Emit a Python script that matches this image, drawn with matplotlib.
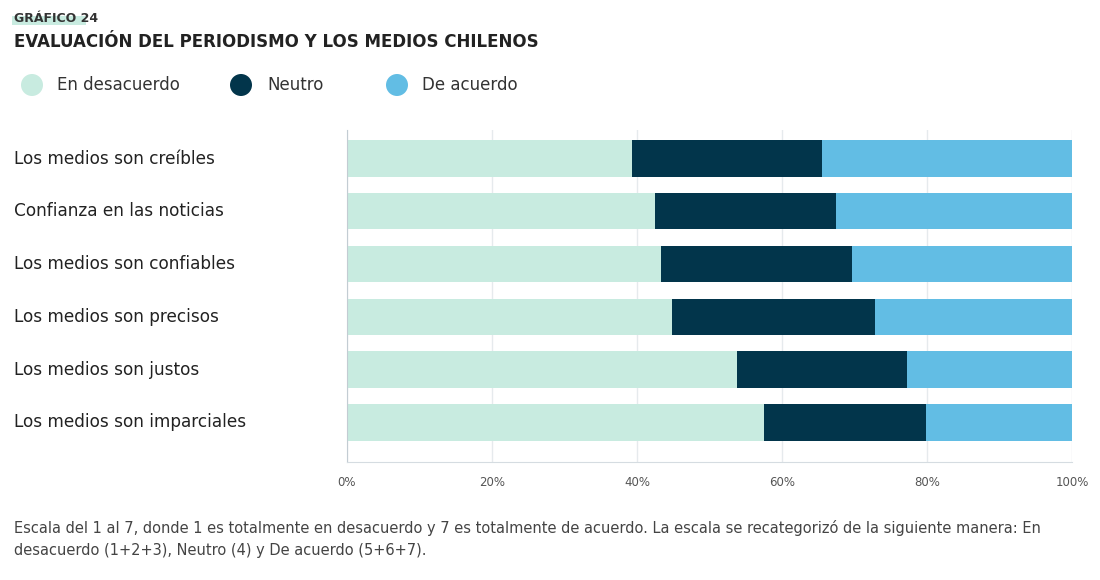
import matplotlib.pyplot as plt
import matplotlib.transforms as mtransforms
from matplotlib.patches import Rectangle, Ellipse
import numpy as np

# datos
categorias = ['Los medios son creíbles', 'Confianza en las noticias', 'Los medios son confiables',
              'Los medios son precisos', 'Los medios son justos', 'Los medios son imparciales']
desacuerdo = [39.3, 42.5, 43.3, 44.8, 53.8, 57.5]
neutro = [26.2, 24.9, 26.4, 28.0, 23.4, 22.4]
acuerdo = [34.5, 32.6, 30.3, 27.2, 22.8, 20.1]
series = ['En desacuerdo', 'Neutro', 'De acuerdo']
colores = ['#c8ebe0', '#02354b', '#62bde4']
ticks = [0, 20, 40, 60, 80, 100]
tick_labels = ['0%', '20%', '40%', '60%', '80%', '100%']

plt.rcParams['font.family'] = ['DejaVu Sans']
W, H = 1100, 580
fig = plt.figure(figsize=(11, 5.8), dpi=100)
ax = fig.add_axes([347 / W, 1 - 462 / H, (1072 - 347) / W, (462 - 130) / H])

y = np.arange(len(categorias))
izq = np.zeros(len(categorias))
for vals, col in zip([desacuerdo, neutro, acuerdo], colores):
    ax.barh(y, vals, left=izq, height=0.69, color=col, zorder=2)
    izq = izq + np.array(vals)

ax.set_xlim(0, 100)
ax.set_ylim(5.75, -0.54)
ax.set_xticks(ticks)
ax.set_xticklabels(tick_labels, fontsize=8.5, color='#555555')
ax.tick_params(axis='x', length=0, pad=10)
ax.set_yticks([])
ax.grid(axis='x', color='#e6eaed', linewidth=1, zorder=0)
for s in ['top', 'right']:
    ax.spines[s].set_visible(False)
ax.spines['left'].set_color('#c3ccd3')
ax.spines['bottom'].set_color('#d5dce1')

# etiquetas de categorías
trans = mtransforms.blended_transform_factory(fig.transFigure, ax.transData)
for yi, cat in zip(y, categorias):
    ax.text(14 / W, yi, cat, transform=trans, ha='left', va='center', fontsize=12.2, color='#222222')

# títulos
fig.patches.append(Rectangle((12 / W, 1 - 25 / H), 74 / W, 9 / H, transform=fig.transFigure,
                             facecolor='#c8ebe0', edgecolor='none', zorder=0))
fig.text(14 / W, 1 - 18 / H, 'GRÁFICO 24', fontsize=9, fontweight='bold', color='#333333', va='center')
fig.text(14 / W, 1 - 42 / H, 'EVALUACIÓN DEL PERIODISMO Y LOS MEDIOS CHILENOS', fontsize=12,
         fontweight='bold', color='#222222', va='center')

# leyenda
for xc, xt, lab, col in zip([32, 241, 397], [57, 267, 422], series, colores):
    fig.patches.append(Ellipse((xc / W, 1 - 85 / H), 22 / W, 22 / H, transform=fig.transFigure,
                               facecolor=col, edgecolor='none'))
    fig.text(xt / W, 1 - 85 / H, lab, fontsize=12, color='#333333', va='center')

# nota
fig.text(14 / W, 1 - 528 / H, 'Escala del 1 al 7, donde 1 es totalmente en desacuerdo y 7 es totalmente de acuerdo. '
         'La escala se recategorizó de la siguiente manera: En', fontsize=10.5, color='#444444', va='center')
fig.text(14 / W, 1 - 551 / H, 'desacuerdo (1+2+3), Neutro (4) y De acuerdo (5+6+7).', fontsize=10.5,
         color='#444444', va='center')

fig.savefig('out.png', dpi=100)
